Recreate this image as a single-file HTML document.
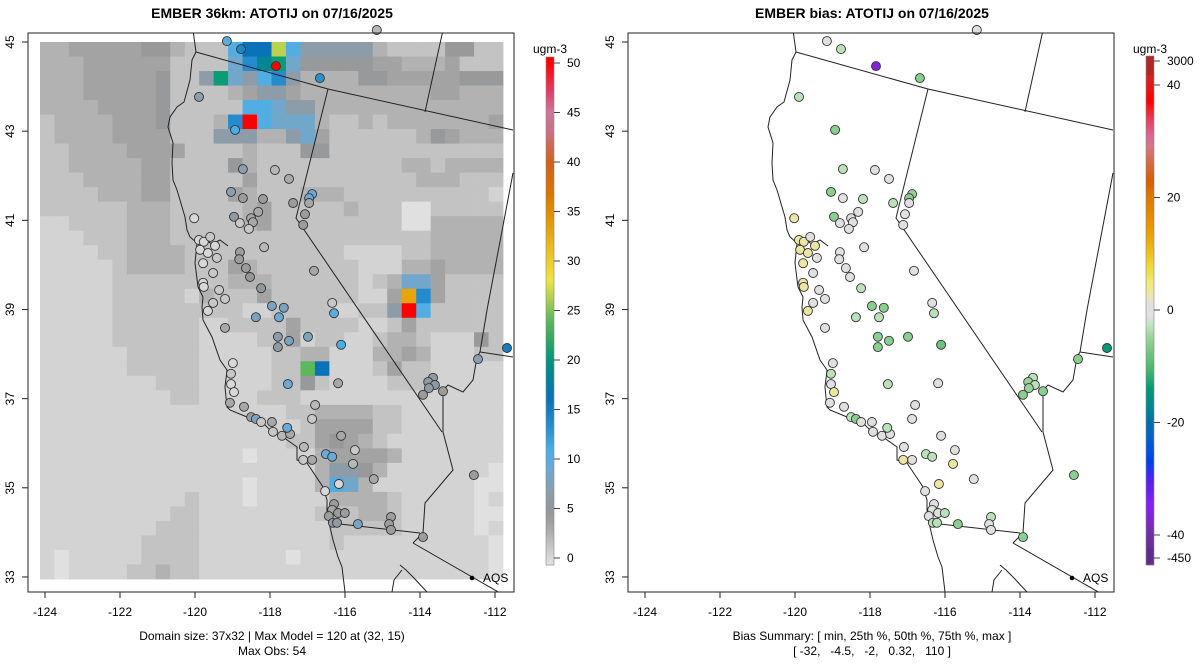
<!DOCTYPE html>
<html><head><meta charset="utf-8">
<style>
html,body{margin:0;padding:0;background:#fff;}
svg{display:block;font-family:"Liberation Sans",sans-serif;}
</style></head>
<body>
<svg id="chart" width="1200" height="672" viewBox="0 0 1200 672" xmlns="http://www.w3.org/2000/svg">
<defs>
<clipPath id="clipL"><rect x="28" y="33" width="486" height="559"/></clipPath>
<clipPath id="clipR"><rect x="628" y="33" width="486" height="559"/></clipPath>
</defs>
<text x="272" y="18" text-anchor="middle" font-weight="bold" font-size="14">EMBER 36km: ATOTIJ on 07/16/2025</text>
<text x="872" y="18" text-anchor="middle" font-weight="bold" font-size="14">EMBER bias: ATOTIJ on 07/16/2025</text>
<g id="gridL" clip-path="url(#clipL)"></g>
<g id="mapL" clip-path="url(#clipL)"></g>
<g id="mapR" clip-path="url(#clipR)"></g>
<g id="sitesL"></g>
<g id="sitesR"></g>
<g id="axes"></g>
<g id="cbars"></g>
<text x="272" y="640" text-anchor="middle" font-size="12">Domain size: 37x32 | Max Model = 120 at (32, 15)</text>
<text x="272" y="655" text-anchor="middle" font-size="12">Max Obs: 54</text>
<text x="872" y="640" text-anchor="middle" font-size="12">Bias Summary: [ min, 25th %, 50th %, 75th %, max ]</text>
<text x="872" y="655" text-anchor="middle" font-size="12" xml:space="preserve">[ -32,   -4.5,   -2,   0.32,   110 ]</text>
</svg>
<script>
const gridRows = [
"ddeeeeeffdcccikkoigggggdccccffcc",
"dddeeeeeecccchjlmhfffffeedddeccc",
"dddeeeeefccgmhgijgddddffeeeeefff",
"dddeeeeefccccdeggedddddddddeeddd",
"ddddeeeefccccciihggddddddddddddd",
"cddddeeefcccdjqihhhdccdcddddddde",
"cddddeeeecccgggddgheccccccdfeddd",
"ccddddeeeeccccdcccffcccccccccccc",
"ccdddddeeccccfdccccccccccddcdddd",
"cccddddeecccccecccccccccccdddccc",
"ccccdddeeccccedcccdddcccccccccc",
"ccccccdddcccccdecccccdcccaaccccc",
"bbccccdddcccccdecccccccccaaddddd",
"bbbcccdddccccccccccccccccccddddd",
"bbbbccddddcccccccccccbbbbccddddd",
"bbbbbcddddcccedcccccccbbbddedddd",
"bbbbbccccccccdddccccccbcdhhecccc",
"bbbbbcccccbdccceccccccbbepjecccc",
"bbbbbcccccccccbbccccbbccgqiccccc",
"bbbbbccccccbbcccceccccbbceccccccc",
"bbbbbccccccbbbbccebccbbcddcbbbfc",
"bbbbbbcccccbbbbbccddbbbddedbbbcc",
"bbbbbbcccccbbbbbccnkbbbceccbbbbb",
"bbbbbbbbcccbbbbbccfcbbbbcccbbbbb",
"bbbbbbbbbccbbbbcccbbbbbbbbbbbbbb",
"bbbbbbbbbbbbbbbbbccddddccbbbbbbb",
"bbbbbbbbbbbbbbbbbbceeeeccbbbbbbb",
"bbbbbbbbbbbbbbbbbccefedcbbbbbbbb",
"bbbbbbbbbbbbbbabbbbdeeeedbbbbbbb",
"bbbbbbbbbbbbbbbbbbbdggfdbbbbbbba",
"bbbbbbbbbbbbbbabbbbdihdbbbbbbbaa",
"bbbbbbbbbbcbbbabbbbbddddcbbbbbab",
"bbbbbbbbbccbbbbbbbbcccddcbbbbbaa",
"bbbbbbbbcccbbbbbbbbbcccccbbbbbab",
"bbbbbbbccccbbbbbbbbbcbbbbbbbbbba",
"babbbbbccccbbbbbbabbbbbbbbbbbbba",
"babbbbccdccbbbbbbbbbbbbbbbbbbbba"
];
const levelCodes  = ["a","b","c","d","e","f","g","h","i","j","k","l","m","n","o","p","q"];
const levelValues = [-0.6,0.3,1.3,2.4,3.4,4.6,6.5,8.5,10.5,13.5,16,18.5,20.5,24,26.5,33,50];

const siteLon = [-119.11,-118.73,-117.79,-116.61,-119.86,-118.89,-118.68,-117.82,-117.44,-119.00,-118.68,-118.14,-117.33,-116.82,-116.90,-116.90,-117.01,-117.06,-119.99,-118.92,-118.76,-118.46,-118.41,-118.27,-118.52,
-119.86,-119.73,-119.56,-119.43,-119.83,-119.62,-119.38,-119.75,-119.48,-119.75,-119.73,-119.32,-119.16,-119.48,-118.76,-118.78,-118.60,-118.49,-118.11,-118.19,-116.77,-117.90,-117.58,-116.28,-115.08,
-119.62,-119.16,-118.33,-117.71,-117.74,-117.44,-117.74,-116.93,-116.04,-116.23,-118.95,-119.00,-119.00,-118.92,-119.03,-118.65,-118.46,-118.33,-118.19,-117.90,-117.87,-117.63,-117.41,-117.49,-117.47,-116.12,-116.74,-116.82,-116.04,
-117.04,-117.06,-116.82,-116.45,-116.28,-115.67,-115.72,-116.10,-115.16,-116.47,-116.23,-116.28,-116.12,-115.94,-116.37,-116.26,-116.15,-115.59,-114.70,-114.75,-114.70,-113.84,-113.57,-113.70,-113.52,-113.68,-113.30,-113.84,-112.36,-111.58,-112.47];
const siteLat = [45.02,44.84,44.46,44.19,43.77,43.03,42.15,42.13,41.93,41.64,41.50,41.48,41.39,41.59,41.50,41.39,41.14,40.90,41.05,41.08,40.94,41.05,40.96,41.19,40.81,
40.56,40.52,40.63,40.43,40.34,40.27,40.16,40.04,39.82,39.60,39.51,39.44,39.24,39.15,40.29,40.13,39.93,39.73,40.40,39.48,39.87,39.08,39.04,39.15,45.27,
38.97,38.59,38.83,38.83,38.39,38.30,38.16,38.39,38.21,38.92,37.80,37.56,37.33,37.15,36.91,36.82,36.59,36.55,36.48,36.48,36.26,36.17,36.21,36.35,37.33,37.35,36.86,36.55,36.17,
35.92,35.63,35.63,35.76,35.70,35.85,35.54,35.09,35.20,34.93,34.64,34.51,34.44,34.44,34.37,34.22,34.22,34.19,34.35,34.19,34.06,33.90,37.47,37.38,37.31,37.24,37.17,37.09,37.89,38.14,35.29];
const siteObs = [10,14,50,13,7,11,7,2,3,7,4,4,4,9,9,3,4,4,0,6,1,3,3,3,1,
0,0,1,0,0,0,1,0,1,0,0,1,1,1,4,4,4,5,2,5,3,8,8,1,2,
0,3,8,9,7,8,6,8,11,10,0,1,0,0,3,3,4,8,1,3,1,2,3,9,9,3,2,1,3,
2,1,3,9,9,1,2,0,3,0,4,3,4,4,4,6,6,8,4,4,4,4,6,6,6,6,4,4,7,15,4];
const siteBias = [0,-3,-36,-6,-3,-6,-3,0,0,-6,0,-3,-3,-5,-6,0,0,0,3,-6,0,0,0,0,0,
3,3,0,3,3,3,0,3,0,3,3,0,0,0,0,0,0,0,0,-3,0,-6,-6,0,0,
3,0,-3,-3,-6,-6,-6,-6,-8,-3,0,-3,0,3,0,0,-3,-6,0,0,0,0,0,-3,-3,0,0,0,0,
0,3,0,-3,-3,0,3,3,0,0,0,0,0,-3,0,-3,-3,-6,-3,0,0,-6,-3,-5,-3,-5,-6,-6,-6,-14,-6];

const lonTicks = [-124,-122,-120,-118,-116,-114,-112];
const latTicks = [45,43,41,39,37,35,33];
const obsTicks = [50,45,40,35,30,25,20,15,10,5,0];
const biasTicks = [3000,40,20,0,-20,-40,-450];

const obsStopVals = [-1,0,1,2,3,4,5,7,9,11,13,16,18,20,22,24,26,28,31,34,37,40,43,45,47,50];
const obsStopCols = ["#e6e6e6","#d8d8d8","#c8c8c8","#b8b8b8","#a8a8a8","#9c9c9c","#939799","#8a9fae","#6aaad6","#4aaee6","#2a90d0","#0a72b8","#00829a","#00967a","#30a860","#5cb85c","#a8cc50","#f0e442","#ecc020","#e49800","#dc7400","#d2601c","#cc7080","#cc76a0","#e0406a","#ff0000"];
const biasStopVals = [-46,-40,-35,-30,-27,-23,-20,-17,-14,-11,-8,-5,-2.5,-1,1,2.5,5,8,11,15,20,23,26,29,31,34,37,41,46];
const biasStopCols = ["#5c2a88","#7030a0","#8a20f0","#5020f0","#0040f0","#0060d0","#0070a8","#008890","#009a78","#40b470","#6cc47c","#98d498","#c4e4c4","#e0e0e0","#e0e0e0","#ece6b0","#f0e870","#f0d830","#ecb810","#e89600","#e07800","#d85c00","#d46a40","#d47880","#d86898","#e83c58","#ff0000","#d82020","#a82828"];

const NS = "http://www.w3.org/2000/svg";
function mk(tag, attrs, parent){const e=document.createElementNS(NS,tag);for(const k in attrs)e.setAttribute(k,attrs[k]);parent.appendChild(e);return e;}
function hex(c){return [parseInt(c.slice(1,3),16),parseInt(c.slice(3,5),16),parseInt(c.slice(5,7),16)];}
function interp(v, vals, cols){
  if(v<=vals[0]) return cols[0];
  if(v>=vals[vals.length-1]) return cols[cols.length-1];
  for(let i=0;i<vals.length-1;i++){
    if(v>=vals[i]&&v<=vals[i+1]){
      const t=(v-vals[i])/(vals[i+1]-vals[i]);const a=hex(cols[i]),b=hex(cols[i+1]);
      return "rgb("+a.map((x,j)=>Math.round(x+(b[j]-x)*t)).join(",")+")";
    }
  }
}
const obsColor = v=>interp(v,obsStopVals,obsStopCols);
const biasColor = v=>interp(v,biasStopVals,biasStopCols);
const xMap = lon => 45 + (lon+124)*37.2;
const yMap = lat => 42 + (45-lat)*44.6;
const xTick = lon => 45 + (lon+124)*37.5;
const yTick = lat => 42 + (45-lat)*44.58;
const obsY = v => 558 - v*9.9;
const biasY = v => v>44 ? 61 : (v<-44 ? 558 : 310 - v*5.625);

const gL=document.getElementById("gridL");
const gx0=40, gy0=42, cw=(503-40)/32, ch=(579-42)/37;
gridRows.forEach((row,r)=>{
  for(let c=0;c<32;c++){
    const code=row[c]||"b";
    const v=levelValues[levelCodes.indexOf(code)];
    const cell=mk("rect",{x:(gx0+c*cw).toFixed(2),y:(gy0+r*ch).toFixed(2),width:(cw+0.4).toFixed(2),height:(ch+0.4).toFixed(2),fill:obsColor(v)},gL);
    
    
  }
});

const coast=[[193,30],[196,52],[192,60],[190,80],[184,102],[177,107],[170,117],[168,127],[173,143],[172,163],[173,180],[177,190],[185,217],[187,230],[190,237],[197,243],[195,263],[198,287],[203,297],[202,307],[203,320],[212,337],[220,360],[227,370],[225,387],[227,407],[230,410],[247,417],[263,423],[270,430],[283,437],[297,447],[297,460],[307,463],[323,487],[327,500],[327,513],[330,527],[333,540],[338,557],[342,567],[345,592]];
const bay=[[197,243],[204,239],[212,244],[220,240],[228,246]];
const orNv=[[196,52],[328,89],[513,130]];
const idOr=[[443,30],[425,112]];
const caNv=[[328,89],[296,218],[442,432]];
const utNv=[[513,173],[487,310],[480,352]];
const azUt=[[480,352],[513,357]];
const river=[[480,352],[477,357],[473,380],[463,392],[448,385],[443,390],[443,432],[453,470],[425,503],[423,533],[413,543]];
const mexBorder=[[331,523],[420,533]];
const sonora=[[413,543],[500,593]];
const gulf=[[400,565],[406,570],[413,577],[427,592]];
const baja=[[392,592],[394,580],[402,570]];
const lines=[coast,bay,orNv,idOr,caNv,utNv,azUt,river,mexBorder,sonora,gulf,baja];
function drawMap(g,dx){
  lines.forEach(l=>{
    const p=mk("polyline",{points:l.map(q=>(q[0]+dx)+","+q[1]).join(" "),fill:"none",stroke:"#222",'stroke-width':1},g);
    
    
  });
  const d=mk("circle",{cx:472+dx,cy:578,r:2.3,fill:"#000"},g);
  
  
  const t=mk("text",{x:483+dx,y:582,'font-size':12},g);
  t.textContent="AQS";
  
  
}
drawMap(document.getElementById("mapL"),0);
drawMap(document.getElementById("mapR"),600);

const sL=document.getElementById("sitesL"), sR=document.getElementById("sitesR");
siteLon.forEach((lon,i)=>{
  const x=xMap(lon), y=yMap(siteLat[i]);
  const a=mk("circle",{cx:x.toFixed(1),cy:y.toFixed(1),r:4.5,fill:obsColor(siteObs[i]),stroke:"#333",'stroke-width':0.9},sL);
  
  
  const b=mk("circle",{cx:(x+600).toFixed(1),cy:y.toFixed(1),r:4.5,fill:biasColor(siteBias[i]),stroke:"#333",'stroke-width':0.9},sR);
  
  
});

const ax=document.getElementById("axes");
[0,600].forEach(dx=>{
  const fr=mk("rect",{x:28+dx,y:33,width:486,height:559,fill:"none",stroke:"#222",'stroke-width':1},ax);
  
  
  lonTicks.forEach(v=>{
    const x=xTick(v)+dx;
    const tk=mk("line",{x1:x,y1:592,x2:x,y2:598,stroke:"#222"},ax);
    
    
    const tl=mk("text",{x:x,y:616,'text-anchor':"middle",'font-size':12},ax);
    tl.textContent=v;
    
    
  });
  latTicks.forEach(v=>{
    const y=yTick(v);
    const tk=mk("line",{x1:22+dx,y1:y,x2:28+dx,y2:y,stroke:"#222"},ax);
    
    
    const tl=mk("text",{x:14+dx,y:y,'text-anchor':"middle",'font-size':12,transform:"rotate(-90 "+(14+dx)+" "+y+")"},ax);
    tl.textContent=v;
    
    
  });
});

const cb=document.getElementById("cbars");
for(let y=57;y<565;y++){
  const v=(558-y-0.5)/9.9;
  const r=mk("rect",{x:546,y:y,width:8,height:1.2,fill:obsColor(v)},cb);
  
  
}
for(let y=56;y<565;y++){
  const yy=y+0.5;
  const v= yy<75 ? 45 : (yy>548 ? -45 : (310-yy)/5.625);
  const r=mk("rect",{x:1146,y:y,width:8,height:1.2,fill:biasColor(v)},cb);
  
  
}
[[546,57,508],[1146,56,509]].forEach(b=>{
  const o=mk("rect",{x:b[0],y:b[1],width:8,height:b[2],fill:"none",stroke:"#888",'stroke-width':0.6},cb);
  
  
});
obsTicks.forEach(v=>{
  const y=obsY(v);
  const tk=mk("line",{x1:554,y1:y,x2:560,y2:y,stroke:"#444"},cb);
  
  
  const tl=mk("text",{x:567,y:y+4,'font-size':12},cb);
  tl.textContent=v;
  
  
});
biasTicks.forEach(v=>{
  const y=biasY(v);
  const tk=mk("line",{x1:1154,y1:y,x2:1160,y2:y,stroke:"#444"},cb);
  
  
  const tl=mk("text",{x:1167,y:y+4,'font-size':12},cb);
  tl.textContent=v;
  
  
});
[[550,53],[1150,53]].forEach(p=>{
  const t=mk("text",{x:p[0],y:p[1],'text-anchor':"middle",'font-size':12},cb);
  t.textContent="ugm-3";
  
  
});
</script>
</body></html>
